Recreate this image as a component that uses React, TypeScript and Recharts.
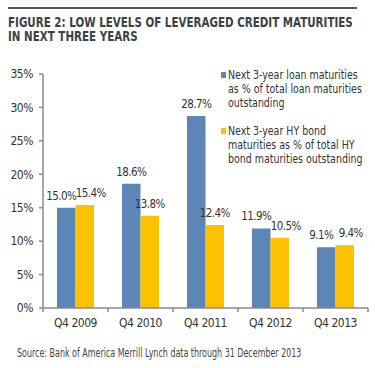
import React from 'react';
import { BarChart, Bar, XAxis, YAxis, LabelList } from 'recharts';

const categories = ['Q4 2009', 'Q4 2010', 'Q4 2011', 'Q4 2012', 'Q4 2013'];
const loanValues = [15.0, 18.6, 28.7, 11.9, 9.1];
const bondValues = [15.4, 13.8, 12.4, 10.5, 9.4];
const yTicks = [0, 5, 10, 15, 20, 25, 30, 35];
const titleLines = ['FIGURE 2: LOW LEVELS OF LEVERAGED CREDIT MATURITIES', 'IN NEXT THREE YEARS'];
const loanLegend = ['Next 3-year loan maturities', 'as % of total loan maturities', 'outstanding'];
const bondLegend = ['Next 3-year HY bond', 'maturities as % of total HY', 'bond maturities outstanding'];
const sourceText = 'Source: Bank of America Merrill Lynch data through 31 December 2013';

const data = categories.map((c, i) => ({ name: c, loan: loanValues[i], bond: bondValues[i] }));

const FONT = "'DejaVu Sans Condensed','DejaVu Sans',sans-serif";
const BLUE = '#5b86b6';
const YELLOW = '#fcc200';
const AXIS = '#8a8a8a';
const TEXT = '#333';
const svgTextStyle = { fontFamily: FONT, fontStretch: 'condensed' as const };

const XTick = (props: any) => {
  const { x, y, payload, index } = props;
  const half = payload && payload.offset ? payload.offset : 0;
  return (
    <g>
      <line x1={x - half} x2={x - half} y1={y} y2={y + 4} stroke={AXIS} strokeWidth={1.5} />
      {index === categories.length - 1 && (
        <line x1={x + half} x2={x + half} y1={y} y2={y + 4} stroke={AXIS} strokeWidth={1.5} />
      )}
      <text x={x} y={y + 19} textAnchor="middle" fontSize={12} letterSpacing={-0.5} fill={TEXT} style={svgTextStyle}>
        {payload.value}
      </text>
    </g>
  );
};

const makeLabel = (series: 'loan' | 'bond') => (props: any) => {
  const { x, y, width, value, index } = props;
  const other = series === 'loan' ? bondValues[index] : loanValues[index];
  const close = Math.abs(other - value) < 2;
  const shift = close ? (series === 'loan' ? -5 : 6) : 0;
  return (
    <text
      x={x + width / 2 + shift}
      y={y - 8}
      textAnchor="middle"
      fontSize={11.5}
      letterSpacing={-0.6}
      fill={TEXT}
      style={svgTextStyle}
    >
      {`${Number(value).toFixed(1)}%`}
    </text>
  );
};

const LegendEntry = ({ color, lines, top }: { color: string; lines: string[]; top: number }) => (
  <div style={{ position: 'absolute', left: 221, top, fontFamily: FONT, fontStretch: 'condensed', fontSize: 12.5, color: TEXT, lineHeight: '14px' }}>
    <div style={{ position: 'absolute', left: 0, top: 4, width: 5, height: 6, background: color }} />
    <div style={{ position: 'absolute', left: 7, top: 0, whiteSpace: 'nowrap', transform: 'scaleX(0.84)', transformOrigin: '0 0' }}>
      {lines.map((l, i) => (
        <div key={i}>{l}</div>
      ))}
    </div>
  </div>
);

export default function App() {
  return (
    <div style={{ position: 'absolute', left: 0, top: 0, width: 375, height: 368, background: '#fff', overflow: 'hidden' }}>
      <div style={{ position: 'absolute', left: 8, top: 7, width: 349, height: 2, background: '#555' }} />
      <div style={{ position: 'absolute', left: 8, top: 15, fontFamily: FONT, fontStretch: 'condensed', fontWeight: 'bold', fontSize: 13.5, lineHeight: '14px', color: '#3a4248', whiteSpace: 'nowrap', transform: 'scaleX(0.85)', transformOrigin: '0 0' }}>
        {titleLines.map((l, i) => (
          <div key={i}>{l}</div>
        ))}
      </div>
      <div style={{ position: 'absolute', left: 0, top: 0 }}>
        <BarChart
          width={375}
          height={368}
          data={data}
          margin={{ top: 74, right: 7, bottom: 0, left: 0 }}
          barGap={0}
          barSize={18.5}
        >
          <XAxis
            dataKey="name"
            axisLine={{ stroke: AXIS, strokeWidth: 1.5 }}
            tickLine={false}
            tickSize={0}
            tickMargin={0}
            tick={<XTick />}
            interval={0}
            height={60}
          />
          <YAxis
            domain={[0, 35]}
            ticks={yTicks}
            width={43}
            axisLine={{ stroke: AXIS, strokeWidth: 1.5 }}
            tickLine={{ stroke: AXIS, strokeWidth: 1.5 }}
            tickSize={4}
            tickMargin={6}
            tickFormatter={(v: number) => `${v}%`}
            tick={{ fontSize: 12, fill: TEXT, letterSpacing: -0.5, style: svgTextStyle }}
          />
          <Bar dataKey="loan" fill={BLUE} isAnimationActive={false}>
            <LabelList dataKey="loan" content={makeLabel('loan')} />
          </Bar>
          <Bar dataKey="bond" fill={YELLOW} isAnimationActive={false}>
            <LabelList dataKey="bond" content={makeLabel('bond')} />
          </Bar>
        </BarChart>
      </div>
      <LegendEntry color={BLUE} lines={loanLegend} top={68} />
      <LegendEntry color={YELLOW} lines={bondLegend} top={124} />
      <div style={{ position: 'absolute', left: 17, top: 346, fontFamily: FONT, fontStretch: 'condensed', fontSize: 11.5, color: '#444', whiteSpace: 'nowrap', transform: 'scaleX(0.77)', transformOrigin: '0 0' }}>
        {sourceText}
      </div>
    </div>
  );
}
